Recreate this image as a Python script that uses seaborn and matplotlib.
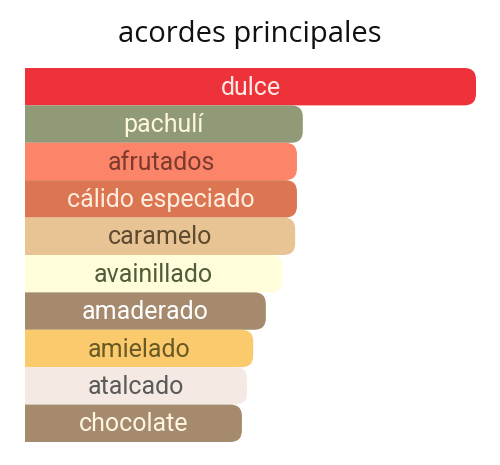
import matplotlib

matplotlib.use("Agg")
import matplotlib.pyplot as plt
import pandas as pd
import seaborn as sns
from matplotlib.patches import FancyBboxPatch

accords = ["dulce", "pachulí", "afrutados", "cálido especiado", "caramelo",
           "avainillado", "amaderado", "amielado", "atalcado", "chocolate"]
strength = [100, 61.6, 60.3, 60.3, 59.9, 57.0, 53.4, 50.6, 49.2, 48.1]
bar_colors = ["#EE3239", "#919A76", "#FC8469", "#DC7551", "#E8C393",
              "#FFFDDA", "#A58A6E", "#FACA6C", "#F4E9E3", "#A58A6E"]
text_colors = ["#FCE8E6", "#FFF6E0", "#7D3B2E", "#FFEEE0", "#5E4A30",
               "#525B3A", "#FFFFFF", "#6A5A25", "#5A5A5A", "#FFF6E0"]

df = pd.DataFrame({"accord": accords, "strength": strength})

sns.set_theme(style="white")
plt.rcParams["font.family"] = ["Roboto", "DejaVu Sans"]

fig = plt.figure(figsize=(5, 4.65), dpi=100)
ax = fig.add_axes([0.05, 0.0495, 0.902, 0.8043])
sns.barplot(data=df, x="strength", y="accord", hue="accord", palette=bar_colors,
            width=1.0, legend=False, ax=ax, saturation=1)
ax.set_xlim(0, 100)
ax.set_ylim(9.5, -0.5)

# swap the square bars for ones with rounded right corners
bars = list(ax.patches)
for bar, color in zip(bars, bar_colors):
    x0, y0 = bar.get_x(), bar.get_y()
    w, h = bar.get_width(), bar.get_height()
    bar.set_visible(False)
    ax.add_patch(FancyBboxPatch((x0 - 5, y0), w + 5, h,
                                boxstyle="round,pad=0,rounding_size=2.6",
                                mutation_aspect=0.12, facecolor=color,
                                edgecolor="none", clip_on=True))

for i, (name, val) in enumerate(zip(accords, strength)):
    ax.text(val / 2, i + 0.03, name, ha="center", va="center",
            fontsize=18, color=text_colors[i])

ax.set_axis_off()
fig.text(0.5, 0.925, "acordes principales", ha="center", va="center",
         fontsize=21, family="Open Sans", color="#111111")

fig.savefig("out.png", dpi=100, facecolor="white")
